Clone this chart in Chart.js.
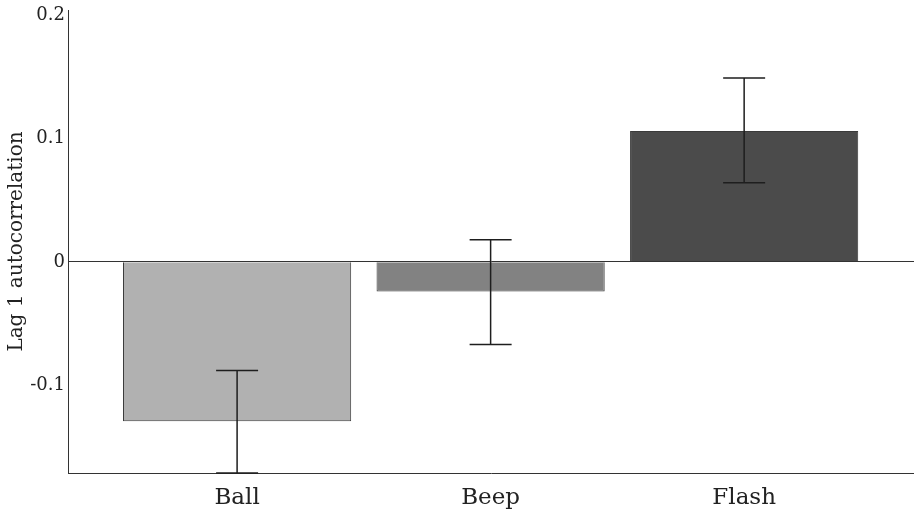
<!DOCTYPE html>
<html>
<head>
<meta charset="utf-8">
<script src="https://cdn.jsdelivr.net/npm/chart.js@4.4.1/dist/chart.umd.min.js"></script>
<style>
  html, body { margin: 0; padding: 0; background: #fff; }
  #wrap { width: 914px; height: 512px; }
</style>
</head>
<body>
<div id="wrap"><canvas id="c" width="914" height="512"></canvas></div>
<script>
// Conditions and mean lag-1 autocorrelation with error bar limits
const categories = ['Ball', 'Beep', 'Flash'];
const means = [-0.129, -0.024, 0.106];
const errLow = [-0.171, -0.067, 0.064];
const errHigh = [-0.088, 0.018, 0.149];
const yTicks = [0.2, 0.1, 0, -0.1];
const barColors = ['#b1b1b1', '#828282', '#4b4b4b'];

const FONT = '"DejaVu Serif", "Liberation Serif", serif';

// Draws the error bars from errLow/errHigh through the chart scales
const errorBars = {
  id: 'errorBars',
  afterDatasetsDraw(chart) {
    const { ctx, scales: { x, y } } = chart;
    ctx.save();
    ctx.strokeStyle = '#1e1e1e';
    ctx.lineWidth = 1.5;
    categories.forEach((_, i) => {
      const px = x.getPixelForValue(i);
      const top = y.getPixelForValue(errHigh[i]);
      const bot = y.getPixelForValue(errLow[i]);
      const half = 21;
      ctx.beginPath();
      ctx.moveTo(px, top); ctx.lineTo(px, bot);
      ctx.moveTo(px - half, top); ctx.lineTo(px + half, top);
      ctx.moveTo(px - half, bot); ctx.lineTo(px + half, bot);
      ctx.stroke();
    });
    ctx.restore();
  }
};

new Chart(document.getElementById('c'), {
  type: 'bar',
  data: {
    datasets: [{
      data: means.map((v, i) => ({ x: i, y: v })),
      backgroundColor: barColors,
      borderColor: '#3a3a3a',
      borderWidth: 1,
      barPercentage: 0.9,
      categoryPercentage: 1.0
    }]
  },
  options: {
    responsive: false,
    animation: false,
    layout: { padding: { top: 0, right: 0, left: 0, bottom: 0 } },
    plugins: { legend: { display: false }, tooltip: { enabled: false } },
    scales: {
      x: {
        type: 'linear',
        offset: false,
        min: -0.667,
        max: 2.67,
        afterBuildTicks(scale) { scale.ticks = categories.map((_, i) => ({ value: i })); },
        afterFit(scale) { scale.height = 39; },
        grid: { display: false, drawTicks: false, offset: false },
        border: { display: true, color: '#333', width: 1 },
        ticks: {
          padding: 11,
          color: '#222',
          font: { family: FONT, size: 23 },
          callback: (v) => categories[v]
        }
      },
      y: {
        min: -0.171,
        max: 0.204,
        afterBuildTicks(scale) { scale.ticks = yTicks.map(v => ({ value: v })); },
        afterFit(scale) {
          scale.width = 68;
          scale.paddingTop = 10;
        },
        grid: {
          drawTicks: false,
          color: (c) => (c.tick && c.tick.value === 0 ? '#333' : 'rgba(0,0,0,0)'),
          lineWidth: 1
        },
        border: { display: true, color: '#333', width: 1 },
        ticks: {
          padding: 3,
          color: '#222',
          font: { family: FONT, size: 18 },
          callback: (v) => (v === 0 ? '0' : String(v))
        },
        title: {
          display: true,
          text: 'Lag 1 autocorrelation',
          color: '#222',
          font: { family: FONT, size: 20, weight: 'normal' },
          padding: { top: 5, bottom: 0 }
        }
      }
    }
  },
  plugins: [errorBars]
});
</script>
</body>
</html>
